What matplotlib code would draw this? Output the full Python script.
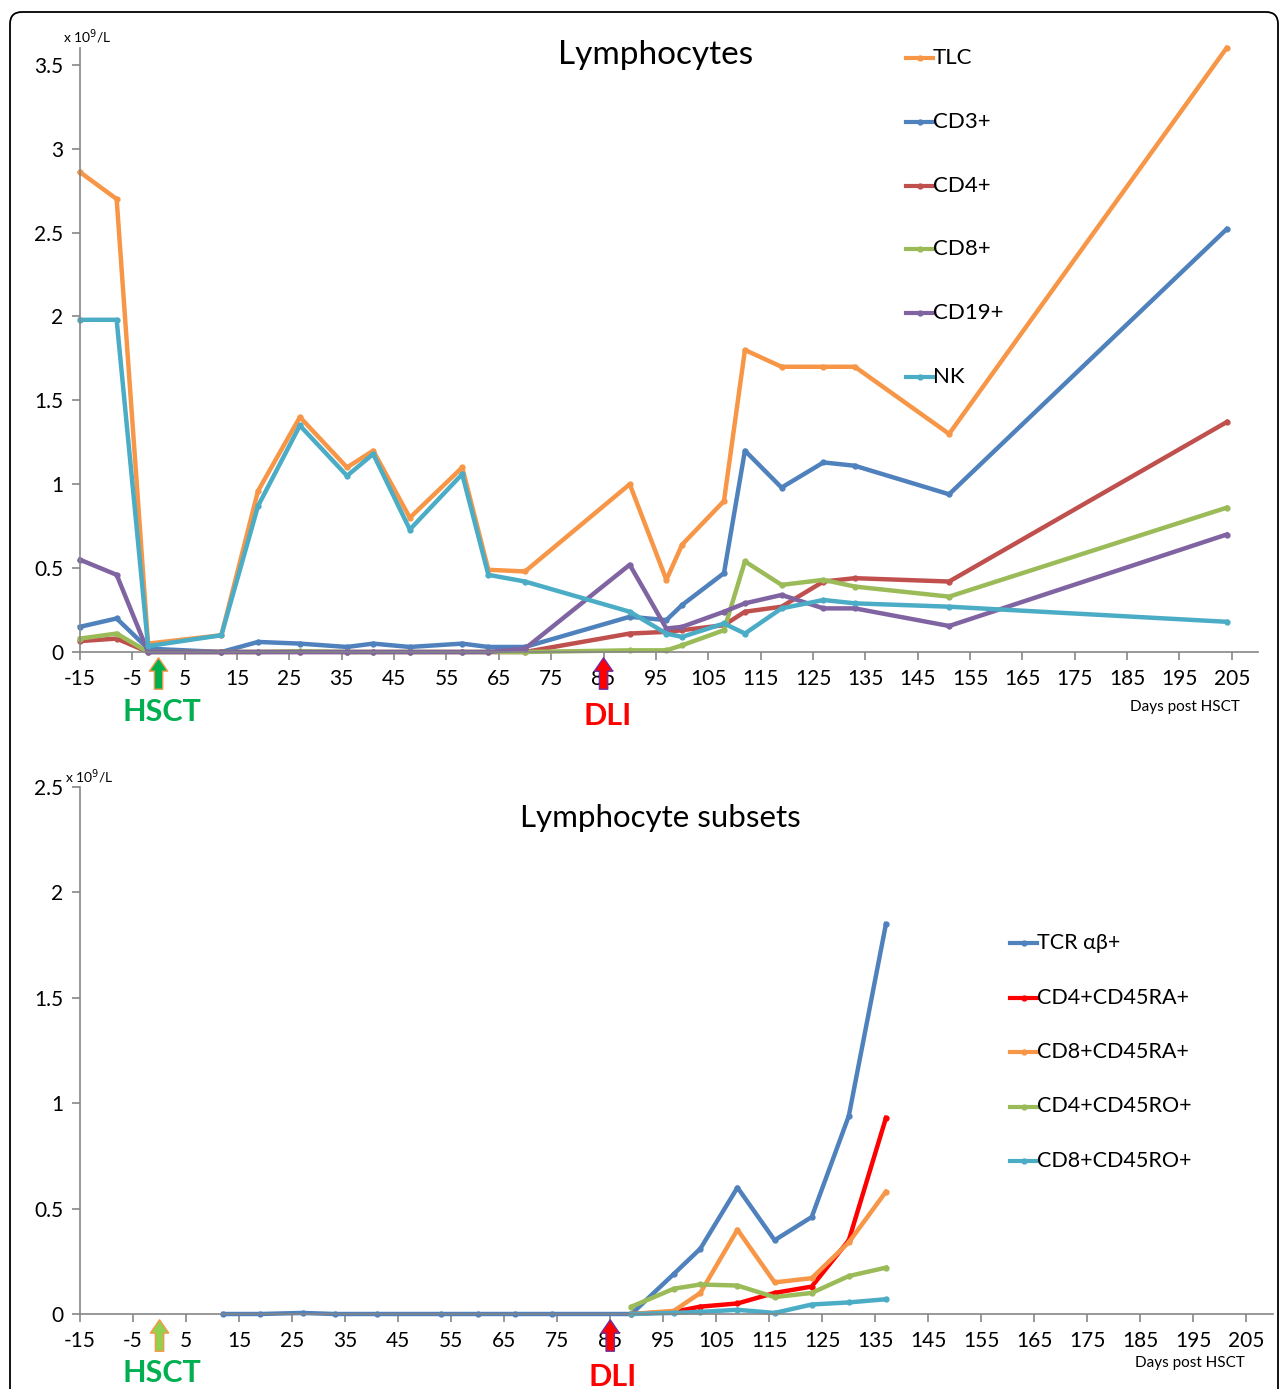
import matplotlib
matplotlib.use('Agg')
import matplotlib.pyplot as plt
from matplotlib.lines import Line2D
from matplotlib.patches import FancyBboxPatch

W, H = 1281, 1389
FONT = ['Lato', 'DejaVu Sans']

# ---- top panel: lymphocytes (x 10^9/L) ----
top_days = [-15, -8, -2, 12, 19, 27, 36, 41, 48, 58, 63, 70, 90, 97, 100,
            108, 112, 119, 127, 133, 151, 204]
tlc = [2.86, 2.70, 0.05, 0.10, 0.96, 1.40, 1.10, 1.20, 0.80, 1.10, 0.49, 0.48,
       1.00, 0.43, 0.64, 0.90, 1.80, 1.70, 1.70, 1.70, 1.30, 3.60]
cd3 = [0.15, 0.20, 0.02, 0.00, 0.06, 0.05, 0.03, 0.05, 0.03, 0.05, 0.03, 0.03,
       0.21, 0.19, 0.28, 0.47, 1.20, 0.98, 1.13, 1.11, 0.94, 2.52]
cd4 = [0.065, 0.08, 0.0, 0.0, 0.0, 0.0, 0.0, 0.0, 0.0, 0.0, 0.0, 0.0,
       0.11, 0.12, 0.13, 0.16, 0.24, 0.27, 0.42, 0.44, 0.42, 1.37]
cd8 = [0.08, 0.11, 0.0, 0.0, 0.0, 0.005, 0.0, 0.0, 0.0, 0.0, 0.0, 0.0,
       0.01, 0.01, 0.04, 0.13, 0.54, 0.40, 0.43, 0.39, 0.33, 0.86]
cd19 = [0.55, 0.46, 0.0, 0.0, 0.0, 0.0, 0.0, 0.0, 0.0, 0.0, 0.0, 0.02,
        0.52, 0.14, 0.15, 0.24, 0.29, 0.34, 0.26, 0.26, 0.155, 0.70]
nk = [1.98, 1.98, 0.035, 0.10, 0.87, 1.35, 1.05, 1.18, 0.73, 1.06, 0.46, 0.42,
      0.24, 0.11, 0.09, 0.17, 0.11, 0.26, 0.31, 0.29, 0.27, 0.18]
top_labels = ['TLC', 'CD3+', 'CD4+', 'CD8+', 'CD19+', 'NK']
top_series = [tlc, cd3, cd4, cd8, cd19, nk]
top_colors = ['#F79646', '#4F81BD', '#C0504D', '#9BBB59', '#8064A2', '#4BACC6']

# ---- bottom panel: lymphocyte subsets ----
tcr_days = [12, 19, 27, 33, 41, 53, 60, 67, 74, 89, 97, 102, 109, 116, 123, 130, 137]
tcr_ab = [0.0, 0.0, 0.005, 0.0, 0.0, 0.0, 0.0, 0.0, 0.0, 0.0,
          0.19, 0.31, 0.60, 0.35, 0.46, 0.94, 1.85]
sub_days = [89, 97, 102, 109, 116, 123, 130, 137]
cd4_ra = [0.0, 0.01, 0.035, 0.05, 0.10, 0.13, 0.35, 0.93]
cd8_ra = [0.0, 0.015, 0.10, 0.40, 0.15, 0.17, 0.34, 0.58]
cd4_ro = [0.035, 0.12, 0.14, 0.135, 0.08, 0.10, 0.18, 0.22]
cd8_ro = [0.0, 0.005, 0.01, 0.02, 0.005, 0.045, 0.055, 0.07]
bot_labels = ['TCR αβ+', 'CD4+CD45RA+', 'CD8+CD45RA+', 'CD4+CD45RO+', 'CD8+CD45RO+']
bot_series = [(tcr_days, tcr_ab), (sub_days, cd4_ra), (sub_days, cd8_ra),
              (sub_days, cd4_ro), (sub_days, cd8_ro)]
bot_colors = ['#4F81BD', '#FF0000', '#F79646', '#9BBB59', '#4BACC6']

x_ticks = list(range(-15, 206, 10))
HSCT_DAY = 0
DLI_DAY = 85

plt.rcParams['font.family'] = FONT
plt.rcParams['axes.unicode_minus'] = False
fig = plt.figure(figsize=(W / 100, H / 100), dpi=100)

# outer frame
frame = FancyBboxPatch((0.10, -0.5), 12.68, 14.27, boxstyle='round,pad=0,rounding_size=0.12',
                       transform=fig.dpi_scale_trans, fc='none', ec='black', lw=1.3)
fig.add_artist(frame)


def px_axes(x0, y0, x1, y1):
    return fig.add_axes([x0 / W, 1 - y1 / H, (x1 - x0) / W, (y1 - y0) / H])


def style(ax, ymax, yticks):
    for s in ['top', 'right']:
        ax.spines[s].set_visible(False)
    for s in ['left', 'bottom']:
        ax.spines[s].set_color('#868686')
        ax.spines[s].set_linewidth(1.2)
    ax.set_xlim(-15, 210)
    ax.set_ylim(0, ymax)
    ax.set_xticks(x_ticks)
    ax.set_yticks(yticks)
    ax.set_yticklabels([f'{t:g}' for t in yticks])
    ax.tick_params(axis='both', direction='out', length=6, width=1.2, color='#868686',
                   labelsize=15)
    ax.tick_params(axis='x', pad=6)
    ax.tick_params(axis='y', pad=6)
    ax.patch.set_alpha(0)


def arrow(ax, x, ax_h, face, edge):
    ax.annotate('', xy=(x, -3 / ax_h), xytext=(x, -40 / ax_h),
                xycoords=ax.get_xaxis_transform(), annotation_clip=False,
                arrowprops=dict(arrowstyle='simple,head_length=0.8,head_width=1.1,tail_width=0.5',
                                fc=face, ec=edge, lw=1, mutation_scale=12))


def legend(labels, colors, x0, y0, dy, size):
    for i, (lab, col) in enumerate(zip(labels, colors)):
        y = 1 - (y0 + i * dy) / H
        fig.add_artist(Line2D([x0 / W, (x0 + 27) / W], [y, y], transform=fig.transFigure,
                              color=col, lw=3))
        fig.add_artist(Line2D([(x0 + 13.5) / W], [y], transform=fig.transFigure,
                              color=col, marker='o', ms=3.5))
        fig.text((x0 + 27) / W, y, lab, fontsize=size, va='center', ha='left')


# ---- top chart ----
ax1 = px_axes(80, 48, 1258, 652)
style(ax1, 3.6, [0, 0.5, 1, 1.5, 2, 2.5, 3, 3.5])
for vals, col in zip(top_series, top_colors):
    ax1.plot(top_days, vals, color=col, lw=3.2, marker='o', ms=3.5, clip_on=False)
fig.text(656 / W, 1 - 55 / H, 'Lymphocytes', fontsize=24, ha='center', va='center')
fig.text(63 / W, 1 - 37 / H, r'x 10$^{9}$/L', fontsize=10, ha='left', va='center')
fig.text(1185 / W, 1 - 707 / H, 'Days post HSCT', fontsize=11, ha='center', va='center')
legend(top_labels, top_colors, 906, 58, 63.8, 16)
arrow(ax1, HSCT_DAY, 604, '#00B050', '#F79646')
arrow(ax1, DLI_DAY, 604, '#FF0000', '#7030A0')
fig.text(162 / W, 1 - 712 / H, 'HSCT', fontsize=22, fontweight='bold', color='#00B050',
         ha='center', va='center')
fig.text(608 / W, 1 - 716 / H, 'DLI', fontsize=22, fontweight='bold', color='#FF0000',
         ha='center', va='center')

# ---- bottom chart ----
ax2 = px_axes(80, 787, 1273, 1314)
style(ax2, 2.5, [0, 0.5, 1, 1.5, 2, 2.5])
for (days, vals), col in zip(bot_series, bot_colors):
    ax2.plot(days, vals, color=col, lw=3.2, marker='o', ms=3.5, clip_on=False)
fig.text(660 / W, 1 - 818 / H, 'Lymphocyte subsets', fontsize=22.5, ha='center', va='center')
fig.text(65 / W, 1 - 777 / H, r'x 10$^{9}$/L', fontsize=10, ha='left', va='center')
fig.text(1190 / W, 1 - 1363 / H, 'Days post HSCT', fontsize=11, ha='center', va='center')
legend(bot_labels, bot_colors, 1010, 943, 54.5, 15.5)
arrow(ax2, HSCT_DAY, 527, '#92D050', '#F79646')
arrow(ax2, DLI_DAY, 527, '#FF0000', '#7030A0')
fig.text(162 / W, 1 - 1373 / H, 'HSCT', fontsize=22, fontweight='bold', color='#00B050',
         ha='center', va='center')
fig.text(613 / W, 1 - 1377 / H, 'DLI', fontsize=22, fontweight='bold', color='#FF0000',
         ha='center', va='center')

fig.savefig('out.png', dpi=100)
